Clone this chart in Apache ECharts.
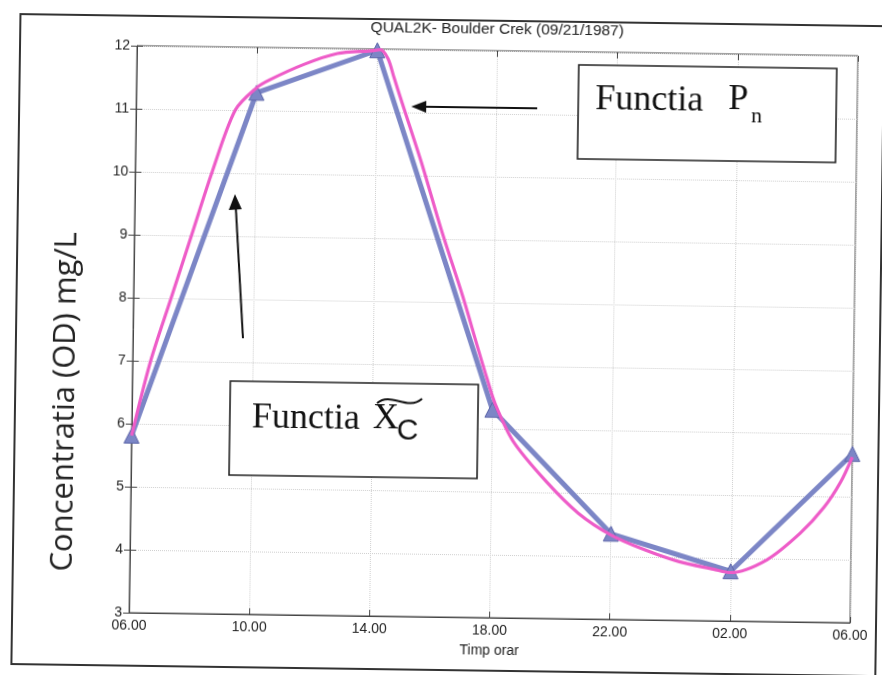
<!DOCTYPE html>
<html>
<head>
<meta charset="utf-8">
<script src="https://cdn.jsdelivr.net/npm/echarts@6/dist/echarts.min.js"></script>
<style>
html,body{margin:0;padding:0;background:#fff;overflow:hidden;}
#main{width:882px;height:675px;transform:rotate(0.8deg);transform-origin:441px 337px;}
</style>
</head>
<body>
<div id="main"></div>
<script>
// ---- data ----
const titleText = 'QUAL2K- Boulder Crek (09/21/1987)';
const xAxisName = 'Timp orar';
const yAxisName = 'Concentratia (OD) mg/L';
const xTickLabels = ['06.00','10.00','14.00','18.00','22.00','02.00','06.00'];
// hours elapsed from 06.00
const measHours = [0, 4, 8, 12, 16, 20, 24];
const measValues = [5.81, 11.28, 11.98, 6.30, 4.36, 3.79, 5.68];
const pnHours = [0,0.6,1.25,1.9,2.55,3.3,4.0,4.44,5.56,6.67,7.78,8.1,8.36,8.57,8.85,9.52,10.21,10.96,11.47,11.8,12.1,12.71,13.81,14.9,16.0,17.14,18.29,19.43,20.0,21.2,22.3,23.07,23.62,24];
const pnValues = [5.81,7,8,9,10,11,11.36,11.49,11.74,11.92,11.97,11.99,11.85,11.55,11.15,10.21,9.15,8.09,7.3,6.8,6.38,5.80,5.18,4.68,4.34,4.11,3.93,3.82,3.77,3.98,4.41,4.82,5.23,5.63];

const chart = echarts.init(document.getElementById('main'), null, {renderer:'canvas'});
const lblFont = {fontFamily:'Liberation Sans, Arial, sans-serif', fontSize:14, color:'#222'};
const gridLine = {show:true, lineStyle:{color:'#cfcfcf', type:'dotted', width:1}};

const option = {
  backgroundColor:'#fff',
  animation:false,
  grid:{left:133, right:28, top:50, bottom:58, show:true, borderColor:'#444', borderWidth:1, backgroundColor:'transparent'},
  xAxis:[{
    type:'value', min:0, max:24, interval:4,
    name:xAxisName, nameLocation:'middle', nameGap:26,
    nameTextStyle:lblFont,
    axisLine:{show:true, lineStyle:{color:'#444'}},
    axisTick:{show:true, inside:true, length:6, lineStyle:{color:'#444'}},
    axisLabel:Object.assign({margin:6, formatter:(v)=>xTickLabels[Math.round(v/4)]}, lblFont),
    splitLine:gridLine
  },{
    type:'value', position:'top', min:0, max:24, interval:4,
    axisLine:{show:false}, axisLabel:{show:false}, splitLine:{show:false},
    axisTick:{show:true, inside:true, length:6, lineStyle:{color:'#444'}}
  }],
  yAxis:[{
    type:'value', min:3, max:12, interval:1,
    axisLine:{show:true, lineStyle:{color:'#444'}},
    axisTick:{show:true, inside:true, length:6, lineStyle:{color:'#444'}},
    axisLabel:Object.assign({margin:7}, lblFont),
    splitLine:gridLine
  },{
    type:'value', position:'right', min:3, max:12, interval:1,
    axisLine:{show:false}, axisLabel:{show:false}, splitLine:{show:false},
    axisTick:{show:true, inside:true, length:6, lineStyle:{color:'#444'}}
  }],
  series:[{
    name:'Xc', type:'line',
    data:measHours.map((h,i)=>[h, measValues[i]]),
    symbol:'triangle', symbolSize:15, showSymbol:true,
    lineStyle:{color:'#7c86c6', width:5},
    itemStyle:{color:'#7c86c6', borderColor:'#5b64a8', borderWidth:1},
    z:2
  },{
    name:'Pn', type:'line',
    data:pnHours.map((h,i)=>[h, pnValues[i]]),
    smooth:0.3, showSymbol:false, symbol:'none',
    lineStyle:{color:'#ee5cc8', width:3.2},
    z:3
  }],
  graphic:[
    {type:'rect', shape:{x:16, y:20, width:864, height:650}, style:{fill:'none', stroke:'#333', lineWidth:2}, z:0},
    {type:'text', x:493, y:29, style:{text:titleText, font:'15.5px "Liberation Sans", Arial, sans-serif', fill:'#222', textAlign:'center', textVerticalAlign:'middle'}},
    {type:'text', x:66, y:407, rotation:Math.PI/2, style:{text:yAxisName, font:'31px "Open Sans", sans-serif', fill:'#222', textAlign:'center', textVerticalAlign:'middle'}},
    // box Pn
    {type:'rect', shape:{x:575, y:63, width:258, height:94}, style:{fill:'#fff', stroke:'#222', lineWidth:1.6}, z:10},
    {type:'text', x:592, y:98, style:{text:'Functia', font:'36px "Liberation Serif", serif', fill:'#111', textVerticalAlign:'middle'}, z:11},
    {type:'text', x:725, y:96, style:{text:'P', font:'36px "Liberation Serif", serif', fill:'#111', textVerticalAlign:'middle'}, z:11},
    {type:'text', x:748, y:112, style:{text:'n', font:'22px "Liberation Serif", serif', fill:'#111', textVerticalAlign:'middle'}, z:11},
    // box Xc
    {type:'rect', shape:{x:231, y:384, width:248, height:94}, style:{fill:'#fff', stroke:'#222', lineWidth:1.6}, z:10},
    {type:'text', x:253, y:421, style:{text:'Functia', font:'36px "Liberation Serif", serif', fill:'#111', textVerticalAlign:'middle'}, z:11},
    {type:'text', x:374, y:420, style:{text:'X', font:'36px "Liberation Serif", serif', fill:'#111', textVerticalAlign:'middle'}, z:11},
    {type:'text', x:398, y:432, style:{text:'C', font:'30px "Liberation Sans", sans-serif', fill:'#111', textVerticalAlign:'middle'}, z:11},
    {type:'bezierCurve', shape:{x1:378, y1:404, cpx1:392, cpy1:392, cpx2:408, cpy2:412, x2:423, y2:399}, style:{stroke:'#111', lineWidth:2, fill:'none'}, z:11},
    // arrows
    {type:'line', shape:{x1:534, y1:107, x2:420, y2:107}, style:{stroke:'#111', lineWidth:2}, z:11},
    {type:'polygon', shape:{points:[[408,107],[423,101],[423,113]]}, style:{fill:'#111'}, z:11},
    {type:'line', shape:{x1:243, y1:341, x2:234, y2:210}, style:{stroke:'#111', lineWidth:2}, z:11},
    {type:'polygon', shape:{points:[[233,197],[240,212],[227,213]]}, style:{fill:'#111'}, z:11}
  ]
};
chart.setOption(option);
</script>
</body>
</html>
